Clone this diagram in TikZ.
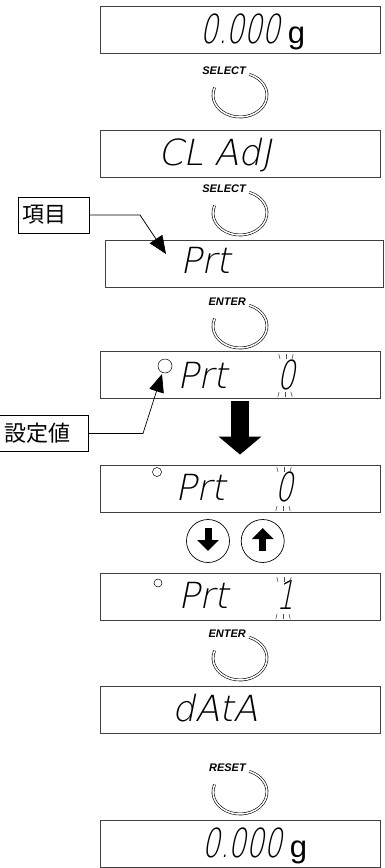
\documentclass[tikz,border=0pt]{standalone}
\usepackage{fontspec}
\usepackage{tikz}
\usetikzlibrary{positioning,arrows.meta}

\newfontfamily\segfont[FakeSlant=0.2]{DejaVu Sans ExtraLight}
\newfontfamily\segdigits[FakeSlant=0.2,FakeStretch=0.7]{DejaVu Sans ExtraLight}
\newfontfamily\keyfont{Liberation Sans}
\newfontfamily\cjk{Noto Sans CJK JP}

\tikzset{
  display/.style={draw=black!75, line width=0.9pt, minimum width=280pt, minimum height=47pt, inner sep=0pt},
  segtext/.style={font=\segfont\fontsize{36}{36}\selectfont, inner sep=0pt, anchor=base west},
  segnum/.style={font=\segdigits\fontsize{40}{40}\selectfont, inner sep=0pt, anchor=base west},
  unit/.style={font=\keyfont\fontsize{31}{31}\selectfont, inner sep=0pt, anchor=base west},
  keylabel/.style={font=\keyfont\bfseries\itshape\fontsize{11}{11}\selectfont, inner sep=0pt, anchor=east},
  ring/.style={double, double distance=1.5pt, line width=0.6pt},
  callout/.style={draw, line width=0.7pt, font=\cjk\fontsize{22}{22}\selectfont, minimum height=36pt, align=left},
  callarrow/.style={line width=0.7pt, -{Triangle[length=18pt,width=15pt]}},
  bigarrow/.style={line width=18pt, -{Triangle[length=18pt,width=42pt]}},
  keybtn/.style={circle, draw, line width=0.7pt, minimum size=43pt, inner sep=0pt},
  keyarrow/.style={line width=7pt, -{Triangle[length=11pt,width=21pt]}},
  lamp/.style={circle, draw, line width=0.5pt, inner sep=0pt},
  blink/.style={line width=0.6pt, black!70},
}

\begin{document}
\begin{tikzpicture}[x=1pt,y=1pt]
    \useasboundingbox (0,0) rectangle (384,-868);

    % displays
    \node[display] (dsp1) at (240,-30) {};
    \node[display] (dsp2) at (240,-153.5) {};
    \node[display, minimum width=278pt] (dsp3) at (244,-264) {};
    \node[display] (dsp4) at (240,-375) {};
    \node[display] (dsp5) at (240,-488.5) {};
    \node[display] (dsp6) at (240,-596.5) {};
    \node[display] (dsp7) at (240,-709.5) {};
    \node[display] (dsp8) at (240,-844) {};

    % display texts
    \node[segnum] (zero1) at (200,-43) {0.000};
    \node[unit] (g1) at ([xshift=7pt]zero1.base east) {g};
    \node[segtext] (cladj) at (158,-165) {CL AdJ};
    \node[segtext] (prt3) at (180,-273) {Prt};
    \node[lamp, minimum size=14pt] (lamp4) at (165,-366) {};
    \node[segtext] (prt4) at (177,-388) {Prt};
    \node[segnum] (val4) at (277,-389) {0};
    \node[lamp, minimum size=9pt] (lamp5) at (157,-472) {};
    \node[segtext] (prt5) at (175,-500) {Prt};
    \node[segnum] (val5) at (275,-501) {0};
    \node[lamp, minimum size=8pt] (lamp6) at (158,-583) {};
    \node[segtext] (prt6) at (178,-608) {Prt};
    \node[segnum] (val6) at (276,-609) {1};
    \node[segtext] (data) at (172,-721) {dAtA};
    \node[segnum] (zero8) at (202,-857) {0.000};
    \node[unit] (g8) at ([xshift=7pt]zero8.base east) {g};

    % blinking digit
    \foreach \cx/\ta/\tb in {286/-354/-392, 284/-467/-506, 284/-577/-614} {
        \foreach \dx in {-6,0,6} {
            \draw[blink] (\cx+\dx*1.2,\ta) -- (\cx+\dx,\ta-5);
            \draw[blink] (\cx+\dx-1,\tb) -- (\cx+\dx*1.2-1,\tb-5);
        }
    }

    % keys
    \foreach \cy/\key/\nm in {95/SELECT/ksel1, 213/SELECT/ksel2, 326/ENTER/kent1, 658/ENTER/kent2, 792/RESET/krst} {
        \node[keylabel] (\nm) at (246,-\cy+24) {\key};
        \draw[ring, shift={(240,-\cy)}] (160:27 and 22) arc[start angle=160, end angle=430, x radius=27, y radius=22];
    }

    % callouts
    \node[callout, text width=63pt, inner xsep=4pt] (item) at (53.5,-215) {項目};
    \node[callout, text width=74pt, inner xsep=10pt, anchor=east] (value) at (89,-433.5) {設定値};
    \coordinate (itembend) at (140,-215);
    \coordinate (itemtip) at (166,-254);
    \coordinate (valbend) at (143,-433.5);
    \coordinate (valtip) at (162,-374);
    \draw[callarrow] (item.east) -- (itembend) -- (itemtip);
    \draw[callarrow] (value.east) -- (valbend) -- (valtip);

    % change value
    \draw[bigarrow, shorten <=2pt, shorten >=10pt] (dsp4.south) -- (dsp5.north);
    \node[keybtn] (kdown) at (208,-541) {};
    \node[keybtn, right=11pt of kdown] (kup) {};
    \draw[keyarrow] ([yshift=13pt]kdown.center) -- ([yshift=-10pt]kdown.center);
    \draw[keyarrow] ([yshift=-10pt]kup.center) -- ([yshift=13pt]kup.center);
\end{tikzpicture}
\end{document}
